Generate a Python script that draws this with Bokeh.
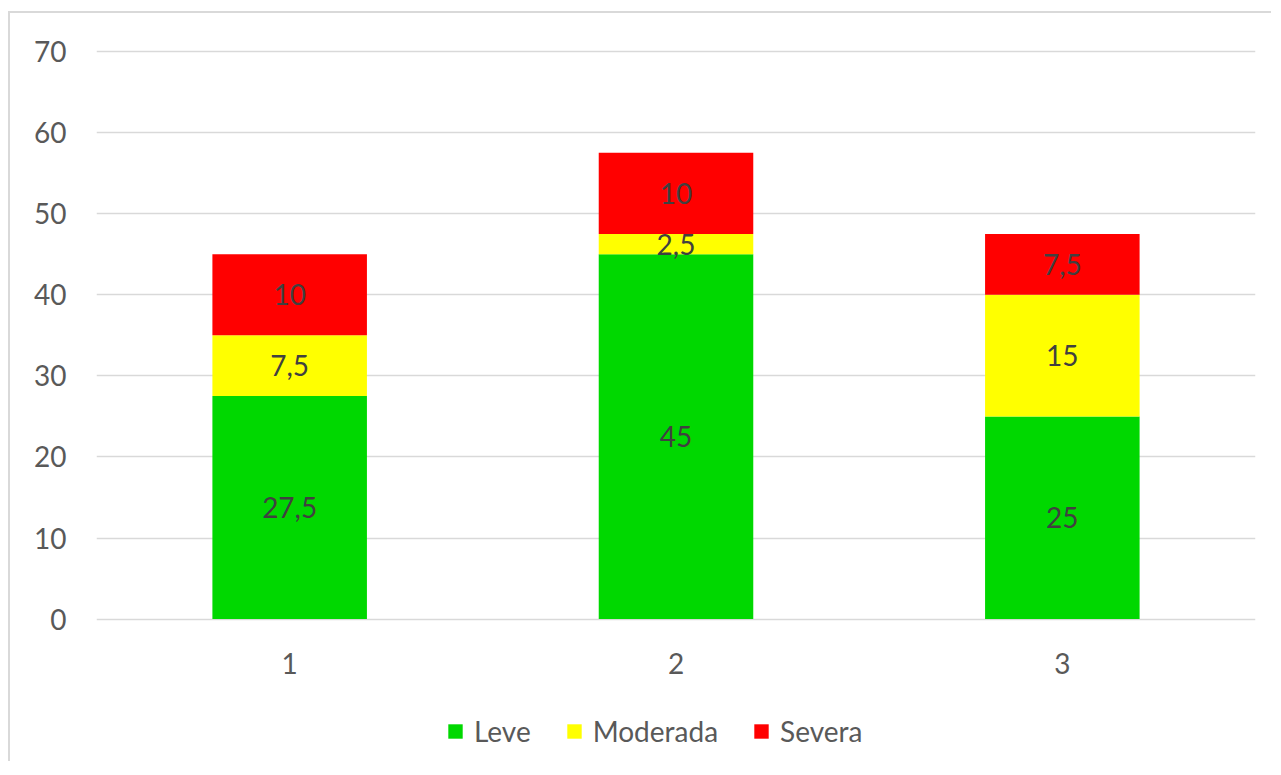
from bokeh.plotting import figure
from bokeh.models import FactorRange, Range1d, FixedTicker, Legend, LegendItem, ColumnDataSource
from bokeh.core.properties import value
from bokeh.embed import file_html
from bokeh.resources import INLINE

categories = ["1", "2", "3"]
series_names = ["Leve", "Moderada", "Severa"]
leve = [27.5, 45, 25]
moderada = [7.5, 2.5, 15]
severa = [10, 10, 7.5]
colors = ["#00D800", "#FFFF00", "#FF0000"]
y_ticks = [0, 10, 20, 30, 40, 50, 60, 70]

FONT = "Lato"
FS = "28px"

# frame geometry: the frame extends below 0 so the legend can sit inside it
PX_PER_UNIT = 566 / 70.0
FRAME_H = 708
Y_END = 70 + 2 / PX_PER_UNIT
Y_START = Y_END - FRAME_H / PX_PER_UNIT

data = {"cat": categories, "Leve": leve, "Moderada": moderada, "Severa": severa}
source = ColumnDataSource(data)

p = figure(x_range=FactorRange(*categories), y_range=Range1d(Y_START, Y_END),
           width=1263, height=750, output_backend="svg", toolbar_location=None,
           x_axis_location=None,
           min_border_left=86, min_border_right=18, min_border_top=36,
           min_border_bottom=4)
p.margin = (11, 0, 0, 8)
p.styles = {"border-left": "2px solid #D9D9D9", "border-top": "2px solid #D9D9D9"}
p.outline_line_color = None
p.background_fill_color = "white"
p.border_fill_color = "white"

renderers = p.vbar_stack(series_names, x="cat", width=0.4, color=colors,
                         line_color=None, source=source)

# data labels
def fmt(v):
    return ("%g" % v).replace(".", ",")

lx, ly, lt = [], [], []
for i, c in enumerate(categories):
    base = 0
    for vals in (leve, moderada, severa):
        v = vals[i]
        lx.append(c)
        ly.append(base + v / 2)
        lt.append(fmt(v))
        base += v
p.text(x=lx, y=ly, text=lt, text_align="center", text_baseline="middle",
       text_color="#404040", text_font=value(FONT), text_font_size=FS)

# category labels (x axis) just below the zero line
p.text(x=categories, y=[0] * len(categories), text=categories, y_offset=44,
       text_align="center", text_baseline="middle",
       text_color="#595959", text_font=value(FONT), text_font_size=FS)

# y axis
p.yaxis.ticker = FixedTicker(ticks=y_ticks)
p.yaxis.axis_line_color = None
p.yaxis.major_tick_line_color = None
p.yaxis.minor_tick_line_color = None
p.yaxis.major_label_standoff = 24
p.yaxis.major_label_text_font = FONT
p.yaxis.major_label_text_font_size = FS
p.yaxis.major_label_text_color = "#595959"

p.xgrid.grid_line_color = None
p.ygrid.ticker = FixedTicker(ticks=y_ticks)
p.ygrid.grid_line_color = "#D9D9D9"
p.ygrid.grid_line_width = 1.6

legend = Legend(items=[LegendItem(label=n, renderers=[r]) for n, r in zip(series_names, renderers)],
                orientation="horizontal", location=(350, 11))
legend.border_line_color = None
legend.background_fill_alpha = 0
legend.glyph_width = 18
legend.glyph_height = 18
legend.label_standoff = 10
legend.spacing = 34
legend.padding = 5
legend.margin = 0
legend.label_text_font = FONT
legend.label_text_font_size = FS
legend.label_text_color = "#595959"
p.add_layout(legend, "center")

open("out.html", "w").write(file_html(p, INLINE))
